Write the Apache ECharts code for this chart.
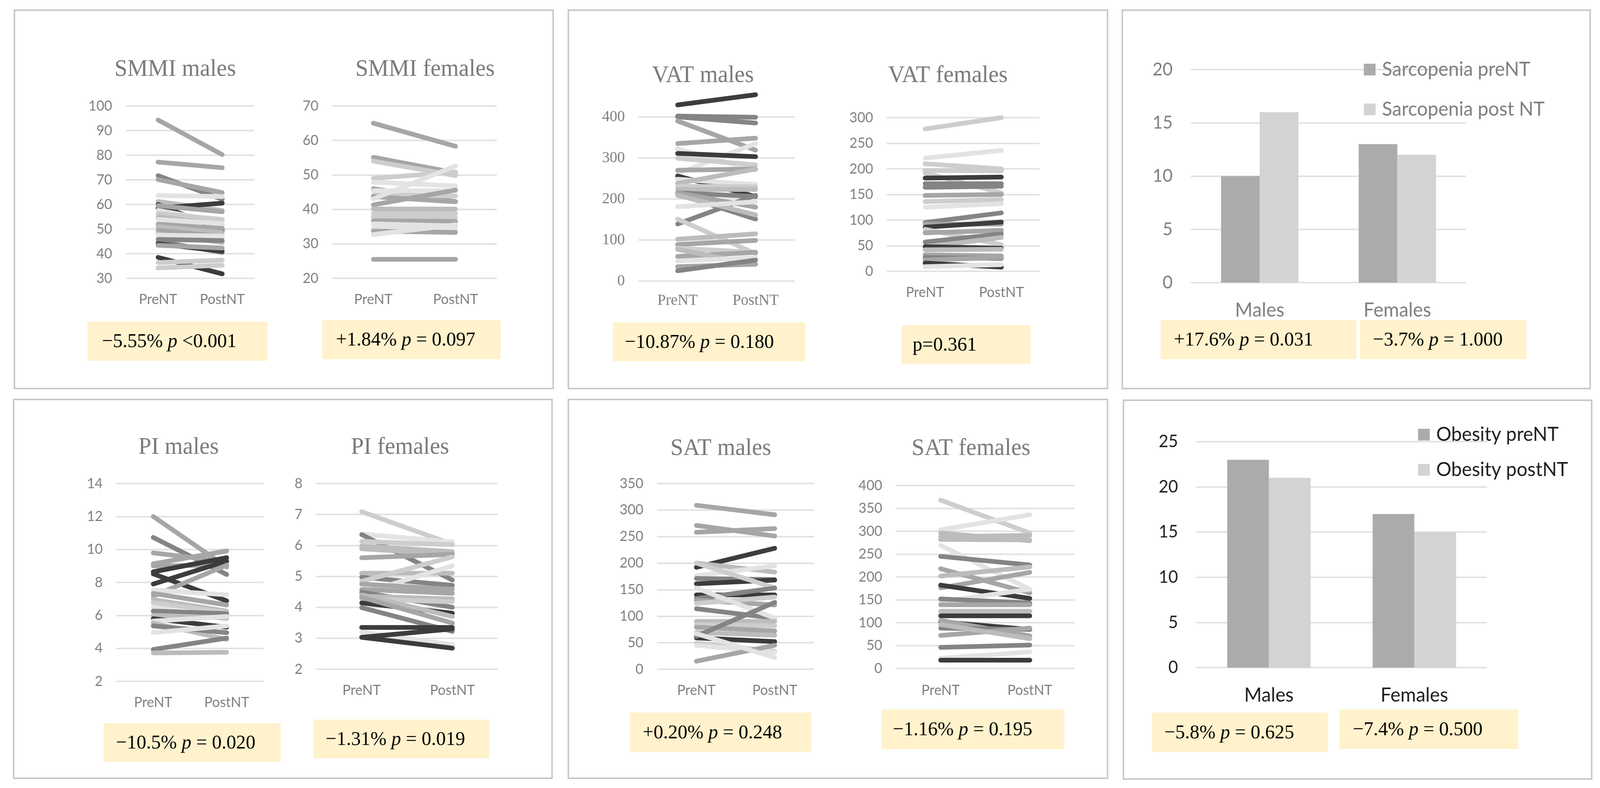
<!DOCTYPE html>
<html><head><meta charset="utf-8">
<script src="https://cdn.jsdelivr.net/npm/echarts@6/dist/echarts.min.js"></script>
<style>html,body{margin:0;padding:0;background:#fff;overflow:hidden;width:100%;height:100%}#c{width:4220px;height:2016px;transform-origin:0 0;position:absolute;left:0;top:0}</style>
</head><body><div id="c"></div>
<script>
// ---------- DATA ----------
const timeCats = ['PreNT', 'PostNT'];
const sexCats = ['Males', 'Females'];

const smmiMalesPre  = [94.3,77.2,71.7,70.1,63.6,61.2,60.0,58.5,59.5,57.6,56.3,55.0,53.9,52.0,51.0,49.5,48.0,47.5,45.8,45.0,44.0,43.4,38.5,36.4,34.2];
const smmiMalesPost = [80.2,74.9,62.1,64.8,63.2,57.5,49.5,60.5,57.0,53.0,53.9,51.8,52.2,50.2,48.5,47.0,44.5,47.2,45.3,40.5,41.0,42.3,31.8,37.4,35.3];
const smmiMalesShade = 'GGMGWLDDGWKLWGLGLWMMDGDKK';

const smmiFemalesPre  = [65.0,55.1,54.0,49.0,47.9,46.0,45.4,44.1,43.7,43.0,41.3,40.1,38.8,37.8,36.7,35.8,34.6,33.7,32.7,25.5];
const smmiFemalesPost = [58.3,50.6,49.8,50.8,46.8,42.3,45.4,43.9,42.2,52.6,45.6,40.1,38.8,37.6,36.5,35.2,34.2,33.3,35.5,25.5];
const smmiFemalesShade = 'GGKKWGWKGWGLKKGWWGWG';

const vatMalesPre  = [429,402,400,390,335,322,262,311,299,270,256,248,238,231,223,215,212,139,215,209,181,151,102,89,80,60,77,49,35,25];
const vatMalesPost = [454,399,385,319,348,270,335,303,283,273,206,235,273,230,223,206,151,209,180,161,193,67,115,99,70,70,41,57,41,51];
const vatMalesShade = 'DMMGGWWDKGDWLKLMMMGLWKLGKGLWGM';

const vatFemalesPre  = [278,221,210,197,192,182,171,164,148,136,125,95,92,86,82,75,57,47,48,42,32,27,22,16,9];
const vatFemalesPost = [300,236,200,196,153,184,171,166,150,140,132,114,92,96,52,80,73,66,45,43,30,25,27,8,13];
const vatFemalesShade = 'KWKKKDMMGKWMGDKGMLDLGMGDW';

const piMalesPre  = [12.0,10.73,9.79,9.13,9.0,8.64,8.52,7.9,7.17,7.53,7.33,6.96,6.76,6.5,6.26,6.0,5.8,5.65,5.53,5.36,4.95,3.93,3.72];
const piMalesPost = [8.93,8.48,9.26,9.91,9.05,9.5,6.88,9.3,9.05,7.25,6.63,6.26,6.18,5.77,6.1,5.85,5.28,5.93,4.54,4.95,5.36,4.62,3.76];
const piMalesShade = 'GMGGGDDDGWGLKWMLDWLMWML';

const piFemalesPre  = [7.09,6.37,6.35,6.13,5.98,5.89,5.60,5.10,4.97,4.84,4.45,4.75,4.58,4.49,4.36,4.27,4.14,3.99,4.40,4.32,3.35,3.2,3.03,3.03];
const piFemalesPost = [6.04,6.11,4.88,6.02,5.80,5.71,5.71,5.10,4.71,5.63,5.34,4.58,4.45,4.0,4.27,4.18,3.81,3.22,3.70,3.49,3.35,2.79,2.68,3.30];
const piFemalesShade = 'KWMKLLGLMKWGGMLKDMLGDWDD';

const satMalesPre  = [309,271,258,192,200,176,171,161,200,140,133,130,124,114,153,90,84,79,69,59,62,49,45,15,67];
const satMalesPost = [291,251,265,228,183,195,169,168,153,140,153,121,136,96,96,90,82,72,64,52,126,34,32,45,22];
const satMalesShade = 'GGGDLWMDKDMGKMWLKGLDMKWGW';

const satFemalesPre  = [368,303,296,288,282,269,245,218,202,176,182,146,152,139,125,115,102,105,88,72,96,46,22,18];
const satFemalesPost = [296,336,279,291,281,173,226,165,222,210,153,173,143,139,125,115,85,71,85,88,65,51,36,18];
const satFemalesShade = 'KWLLLWMGLGDWMGLDDGMGLMWD';

const sarcopeniaPre  = [10, 13];
const sarcopeniaPost = [16, 12];
const obesityPre  = [23, 17];
const obesityPost = [21, 15];

const panelTitles = ['SMMI males','SMMI females','VAT males','VAT females','PI males','PI females','SAT males','SAT females'];
const legendNames = ['Sarcopenia preNT','Sarcopenia post NT','Obesity preNT','Obesity postNT'];
// annotation texts: [before italic p, italic, after]
const notes = [
  ['−5.55% ', 'p', ' <0.001'],
  ['+1.84% ', 'p', ' = 0.097'],
  ['−10.87% ', 'p', ' = 0.180'],
  ['p=0.361', '', ''],
  ['+17.6% ', 'p', ' = 0.031'],
  ['−3.7% ', 'p', ' = 1.000'],
  ['−10.5% ', 'p', ' = 0.020'],
  ['−1.31% ', 'p', ' = 0.019'],
  ['+0.20% ', 'p', ' = 0.248'],
  ['−1.16% ', 'p', ' = 0.195'],
  ['−5.8% ', 'p', ' = 0.625'],
  ['−7.4% ', 'p', ' = 0.500']
];

// ---------- LAYOUT / STYLE ----------
const SHADES = {D:'#3c3c3c', M:'#848484', G:'#a6a6a6', L:'#bcbcbc', K:'#cdcdcd', W:'#e3e3e3'};
const GRAY = '#7f7f7f';
const SANS = 'Lato';
const SERIF = '"Liberation Serif"';

const panels = [
  {pre:smmiMalesPre, post:smmiMalesPost, shade:smmiMalesShade, left:332, top:271, width:339, height:441, min:30, max:100, interval:10, serif:false, xm:36},
  {pre:smmiFemalesPre, post:smmiFemalesPost, shade:smmiFemalesShade, left:876, top:271, width:434, height:441, min:20, max:70, interval:10, serif:false, xm:36},
  {pre:vatMalesPre, post:vatMalesPost, shade:vatMalesShade, left:1684, top:299, width:412, height:420, min:0, max:400, interval:100, serif:true, xm:30},
  {pre:vatFemalesPre, post:vatFemalesPost, shade:vatFemalesShade, left:2339, top:301, width:403, height:393, min:0, max:300, interval:50, serif:false, xm:36},
  {pre:piMalesPre, post:piMalesPost, shade:piMalesShade, left:307, top:1237, width:388, height:506, min:2, max:14, interval:2, serif:false, xm:36},
  {pre:piFemalesPre, post:piFemalesPost, shade:piFemalesShade, left:834, top:1237, width:479, height:475, min:2, max:8, interval:1, serif:false, xm:36},
  {pre:satMalesPre, post:satMalesPost, shade:satMalesShade, left:1733, top:1237, width:414, height:475, min:0, max:350, interval:50, serif:false, xm:36},
  {pre:satFemalesPre, post:satFemalesPost, shade:satFemalesShade, left:2363, top:1242, width:471, height:468, min:0, max:400, interval:50, serif:false, xm:38}
];
const titlePos = [[462,178],[1121,178],[1854,194],[2500,194],[471,1145],[1055,1145],[1901,1148],[2561,1148]];
const boxes = [[38,26,1459,994],[1499,26,2921,994],[2960,26,4194,994],[36,1022,1456,1991],[1499,1022,2921,1991],[2963,1024,4198,1993]];
// note boxes: x0,y0,x1,y1,textX
const noteBoxes = [
  [231,823,705,923,269],[850,819,1321,919,886],[1616,825,2124,924,1648],[2377,832,2718,932,2407],
  [3061,819,3578,919,3096],[3587,819,4026,919,3621],
  [273,1850,740,1949,306],[826,1841,1291,1940,859],[1661,1823,2140,1924,1695],[2325,1815,2807,1917,2355],
  [3038,1823,3502,1924,3071],[3533,1815,4004,1916,3568]
];

const grids = [], xAxes = [], yAxes = [], series = [], graphics = [];

boxes.forEach(b => graphics.push({type:'rect', z:0, shape:{x:b[0], y:b[1], width:b[2]-b[0], height:b[3]-b[1]}, style:{fill:'#fff', stroke:'#c8c8c8', lineWidth:4}}));

panels.forEach((p, i) => {
  grids.push({left:p.left, top:p.top, width:p.width, height:p.height, containLabel:false});
  const fam = p.serif ? SERIF : SANS;
  const fs = p.serif ? 40 : 36;
  xAxes.push({type:'category', gridIndex:i, data:timeCats, boundaryGap:true,
    axisLine:{show:false}, axisTick:{show:false},
    axisLabel:{color:GRAY, fontFamily:fam, fontSize:fs, margin:p.xm, interval:0}});
  yAxes.push({type:'value', gridIndex:i, min:p.min, max:p.max, interval:p.interval,
    axisLine:{show:false}, axisTick:{show:false},
    axisLabel:{color:GRAY, fontFamily:fam, fontSize:fs, margin:36},
    splitLine:{show:true, lineStyle:{color:'#e2e2e2', width:4}}});
  p.pre.forEach((v, j) => {
    series.push({type:'line', xAxisIndex:i, yAxisIndex:i, data:[v, p.post[j]], symbol:'none', clip:false, silent:true,
      lineStyle:{color:SHADES[p.shade[j]], width:12, cap:'round'}, z:3});
  });
  graphics.push({type:'text', z:10, x:titlePos[i][0], y:titlePos[i][1],
    style:{text:panelTitles[i], font:'61px ' + SERIF, fill:'#7a7a7a', textAlign:'center', textVerticalAlign:'middle', align:'center', verticalAlign:'middle'}});
});

const bars = [
  {pre:sarcopeniaPre, post:sarcopeniaPost, names:[legendNames[0], legendNames[1]], left:3141, top:178, width:726, height:545, max:20, bw:102, color:GRAY, tfs:46, legendLeft:3592, legendTop:148, gap:52, xm:46},
  {pre:obesityPre, post:obesityPost, names:[legendNames[2], legendNames[3]], left:3155, top:1130, width:767, height:578, max:25, bw:110, color:'#1e1e1e', tfs:44, legendLeft:3735, legendTop:1082, gap:40, xm:46}
];
const legends = [];
bars.forEach((b, k) => {
  const gi = grids.length;
  grids.push({left:b.left, top:b.top, width:b.width, height:b.height});
  xAxes.push({type:'category', gridIndex:gi, data:sexCats, axisLine:{show:false}, axisTick:{show:false},
    axisLabel:{color:b.color, fontFamily:SANS, fontSize:50, margin:b.xm, interval:0}});
  yAxes.push({type:'value', gridIndex:gi, min:0, max:b.max, interval:5, axisLine:{show:false}, axisTick:{show:false},
    axisLabel:{color:b.color, fontFamily:SANS, fontSize:b.tfs, margin:48},
    splitLine:{show:true, lineStyle:{color:'#e2e2e2', width:4}}});
  series.push({type:'bar', name:b.names[0], xAxisIndex:gi, yAxisIndex:gi, data:b.pre, barWidth:b.bw, barGap:'0%', itemStyle:{color:'#ababab'}, silent:true, z:3});
  series.push({type:'bar', name:b.names[1], xAxisIndex:gi, yAxisIndex:gi, data:b.post, barWidth:b.bw, barGap:'0%', itemStyle:{color:'#d3d3d3'}, silent:true, z:3});
  legends.push({data:b.names, orient:'vertical', left:b.legendLeft, top:b.legendTop, itemWidth:31, itemHeight:30, itemGap:b.gap,
    icon:'rect', selectedMode:false, textStyle:{color:b.color, fontFamily:SANS, fontSize:50, padding:[0,0,0,12]}});
});

noteBoxes.forEach((nb, i) => {
  graphics.push({type:'rect', z:5, shape:{x:nb[0], y:nb[1], width:nb[2]-nb[0], height:nb[3]-nb[1]}, style:{fill:'#fff2cc'}});
  const n = notes[i];
  let txt = '{n|' + n[0] + '}';
  if (n[1]) txt += '{i|' + n[1] + '}{n|' + n[2] + '}';
  graphics.push({type:'text', z:11, x:nb[4], y:(nb[1]+nb[3])/2 + 2,
    style:{text:txt, textVerticalAlign:'middle', verticalAlign:'middle',
      rich:{n:{fontFamily:SERIF, fontSize:51, fill:'#000', color:'#000'}, i:{fontFamily:SERIF, fontSize:51, fontStyle:'italic', fill:'#000', color:'#000'}}}});
});

// fit the 4220x2016 design into the actual viewport
const el = document.getElementById('c');
const sx = (window.innerWidth || 4220) / 4220, sy = (window.innerHeight || 2016) / 2016;
el.style.transform = 'scale(' + sx + ',' + sy + ')';

const chart = echarts.init(el, null, {renderer:'canvas'});
chart.setOption({
  animation:false,
  backgroundColor:'#ffffff',
  grid:grids, xAxis:xAxes, yAxis:yAxes, series:series, legend:legends,
  graphic:{elements:graphics}
});
</script></body></html>
